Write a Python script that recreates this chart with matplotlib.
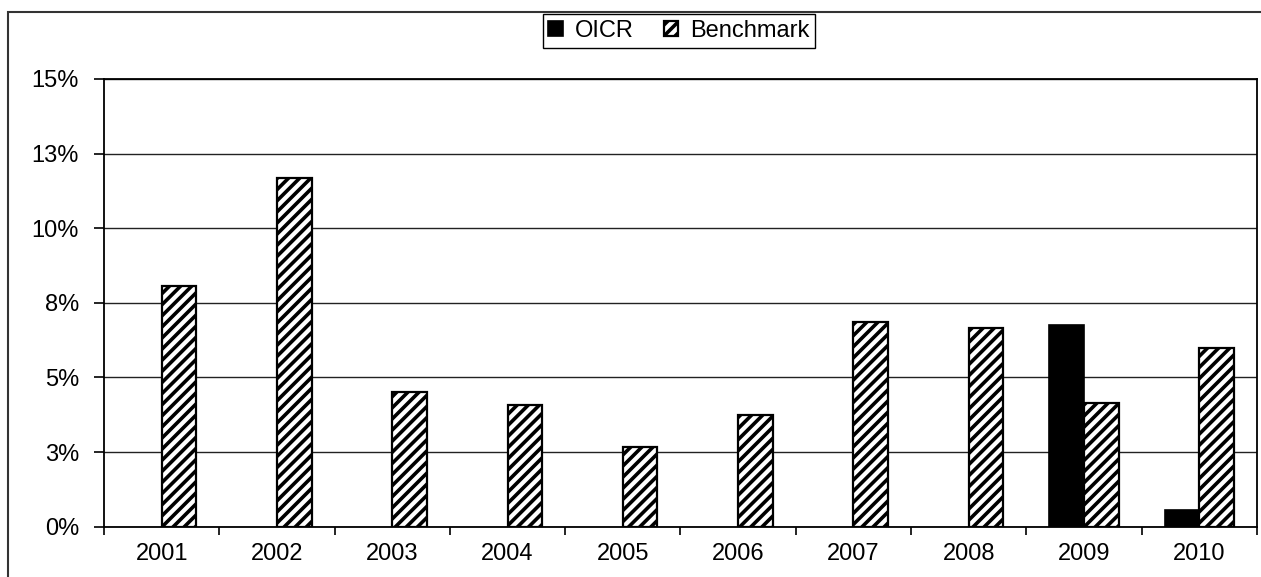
import matplotlib.pyplot as plt
import matplotlib.patches as mpatches
import numpy as np

years = ['2001', '2002', '2003', '2004', '2005', '2006', '2007', '2008', '2009', '2010']
oicr = [np.nan] * 8 + [6.75, 0.56]
benchmark = [8.06, 11.67, 4.50, 4.08, 2.67, 3.74, 6.87, 6.67, 4.15, 5.98]
ytick_vals = [0, 2.5, 5, 7.5, 10, 12.5, 15]
ytick_labels = ['0%', '3%', '5%', '8%', '10%', '13%', '15%']

plt.rcParams['font.family'] = ['Liberation Sans', 'DejaVu Sans']
plt.rcParams['hatch.linewidth'] = 2.6

fig = plt.figure(figsize=(12.61, 5.77), dpi=100)
ax = fig.add_axes([0.0825, 0.0872, 0.9143, 0.7759])

fs = 17
x = np.arange(len(years))
w = 0.3
ax.bar(x, oicr, width=w, align='edge', color='black', edgecolor='black',
       linewidth=1.2, label='OICR', zorder=3)
ax.bar(x, benchmark, width=w, align='edge', color='white', edgecolor='black',
       hatch='///', linewidth=1.6, label='Benchmark', zorder=3)
# OICR bars sit left of center
for p in ax.patches[:len(years)]:
    p.set_x(p.get_x() - w)

ax.set_xlim(-0.5, len(years) - 0.5)
ax.set_ylim(0, 15)
ax.set_yticks(ytick_vals)
ax.set_yticklabels(ytick_labels, fontsize=fs)
ax.yaxis.grid(True, color='#222222', linewidth=1.0, zorder=0)
ax.set_axisbelow(True)

ax.set_xticks(np.arange(-0.5, len(years)), minor=False)
ax.set_xticklabels([])
ax.set_xticks(x, minor=True)
ax.set_xticklabels(years, minor=True, fontsize=fs)
ax.tick_params(axis='x', which='major', length=6, width=1.2, direction='out')
ax.tick_params(axis='x', which='minor', length=0, pad=12)
ax.tick_params(axis='y', length=7, width=1.2, direction='out', pad=11)

for s in ax.spines.values():
    s.set_linewidth(1.3)
    s.set_color('black')

fig.legend(loc='upper center', bbox_to_anchor=(0.5384, 0.9757), ncol=2,
           fontsize=fs, frameon=True, fancybox=False, edgecolor='black',
           framealpha=1, handlelength=0.6, handleheight=0.6,
           handletextpad=0.5, columnspacing=1.3, borderpad=0.25,
           borderaxespad=0)

frame = mpatches.Rectangle((0.0063, -0.05), 1.1, 0.05 + 0.9792, transform=fig.transFigure,
                           fill=False, edgecolor='#333333', linewidth=1.5)
fig.patches.append(frame)

fig.savefig('out.png', dpi=100)
